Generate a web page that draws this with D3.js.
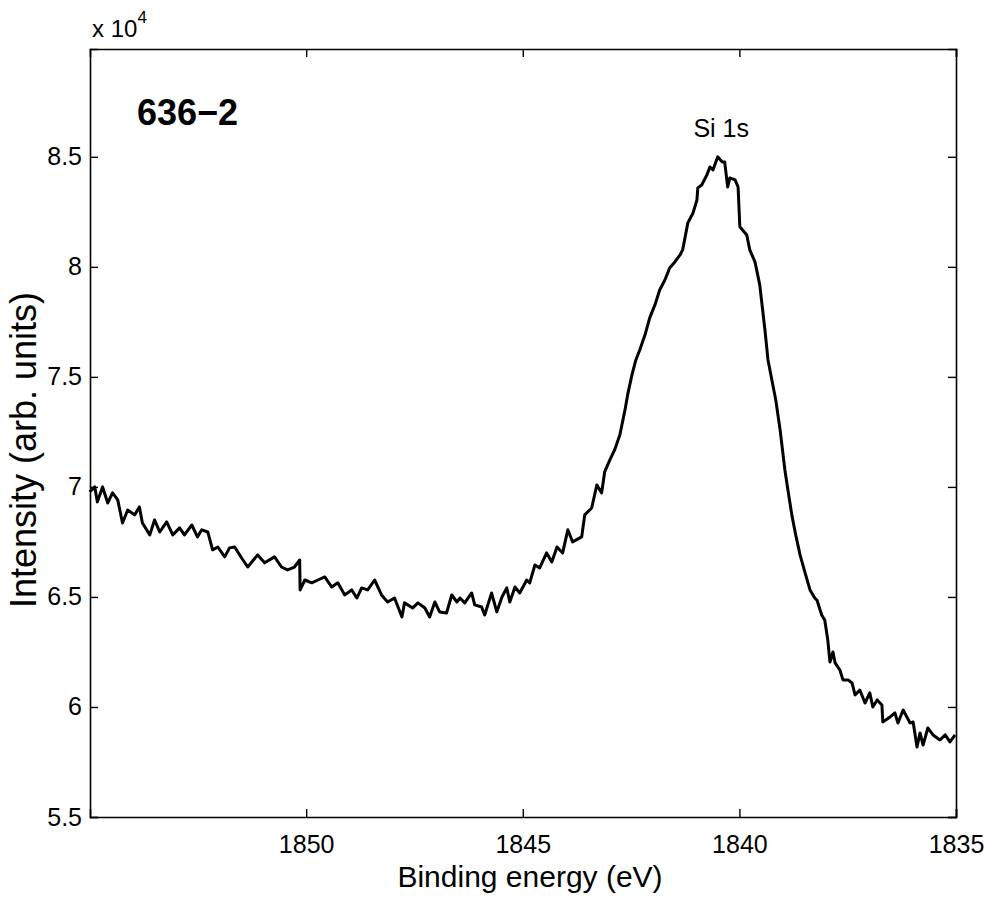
<!DOCTYPE html>
<html>
<head>
<meta charset="utf-8">
<script src="https://cdn.jsdelivr.net/npm/d3@7"></script>
<style>
  html, body { margin: 0; padding: 0; background: #fff; }
  svg { display: block; }
  text { font-family: "Liberation Sans", Arial, Helvetica, sans-serif; fill: #000; }
</style>
</head>
<body>
<svg id="chart" width="986" height="897"></svg>
<script>
// Binding energy (eV)
const energy = [
  1855.00, 1854.95, 1854.88, 1854.82, 1854.70, 1854.58, 1854.47, 1854.35, 1854.24, 1854.12,
  1853.96, 1853.85, 1853.78, 1853.61, 1853.50, 1853.38, 1853.22, 1853.08, 1852.92, 1852.81,
  1852.64, 1852.51, 1852.41, 1852.27, 1852.16, 1852.04, 1851.88, 1851.77, 1851.65, 1851.49,
  1851.35, 1851.12, 1850.96, 1850.73, 1850.57, 1850.43, 1850.27, 1850.15, 1850.14, 1850.03,
  1849.87, 1849.73, 1849.57, 1849.41, 1849.27, 1849.11, 1848.95, 1848.83, 1848.72, 1848.58,
  1848.42, 1848.26, 1848.12, 1847.96, 1847.79, 1847.73, 1847.54, 1847.42, 1847.26, 1847.15,
  1847.03, 1846.92, 1846.76, 1846.64, 1846.52, 1846.45, 1846.34, 1846.18, 1846.11, 1845.95,
  1845.88, 1845.72, 1845.60, 1845.48, 1845.37, 1845.30, 1845.18, 1845.07, 1844.91, 1844.84,
  1844.72, 1844.61, 1844.45, 1844.33, 1844.21, 1844.08, 1843.96, 1843.85, 1843.64, 1843.57,
  1843.41, 1843.29, 1843.18, 1843.11, 1842.99, 1842.88, 1842.76, 1842.64, 1842.58, 1842.48,
  1842.39, 1842.30, 1842.18, 1842.07, 1841.95, 1841.84, 1841.72, 1841.61, 1841.49, 1841.37,
  1841.31, 1841.19, 1841.07, 1840.98, 1840.96, 1840.87, 1840.75, 1840.68, 1840.61, 1840.50,
  1840.40, 1840.34, 1840.27, 1840.22, 1840.10, 1840.03, 1839.99, 1839.83, 1839.76, 1839.64,
  1839.53, 1839.41, 1839.34, 1839.25, 1839.16, 1839.06, 1838.95, 1838.88, 1838.79, 1838.70,
  1838.60, 1838.49, 1838.37, 1838.26, 1838.21, 1838.10, 1838.03, 1837.96, 1837.91, 1837.84,
  1837.79, 1837.68, 1837.61, 1837.49, 1837.40, 1837.33, 1837.22, 1837.10, 1836.99, 1836.92,
  1836.82, 1836.71, 1836.69, 1836.52, 1836.41, 1836.34, 1836.22, 1836.06, 1835.99, 1835.90,
  1835.83, 1835.76, 1835.65, 1835.53, 1835.37, 1835.25, 1835.14, 1835.02
];
// Intensity (arb. units)
const intensity = [
  69770, 69860, 70000, 69320, 70000, 69270, 69730, 69410, 68360, 68950,
  68730, 69090, 68360, 67820, 68500, 67950, 68410, 67820, 68140, 67820,
  68270, 67730, 68050, 67950, 67140, 67270, 66820, 67230, 67270, 66770,
  66360, 66910, 66550, 66820, 66360, 66230, 66360, 66680, 65320, 65770,
  65640, 65770, 65910, 65450, 65640, 65090, 65320, 64950, 65410, 65320,
  65770, 65090, 64770, 64950, 64090, 64730, 64500, 64730, 64500, 64090,
  64770, 64320, 64270, 65090, 64770, 64950, 64730, 65180, 64640, 64545,
  64180, 65180, 64320, 65000, 65410, 64770, 65450, 65180, 65770, 65640,
  66450, 66320, 67000, 66590, 67270, 67000, 68050, 67500, 67730, 68730,
  69040, 70090, 69730, 70680, 71230, 71680, 72360, 73500, 74180, 75090,
  75770, 76225, 76900, 77680, 78270, 78950, 79400, 79950, 80225, 80540,
  80770, 82000, 82450, 83040, 83590, 83720, 84180, 84540, 84400, 85000,
  84770, 84770, 83630, 84040, 83950, 83630, 81820, 81450, 80770, 80225,
  79180, 77130, 75770, 74860, 73950, 72590, 70770, 69860, 68730, 67820,
  66910, 66140, 65320, 64950, 64860, 64180, 63950, 63050, 62045, 62500,
  62000, 61680, 61230, 61230, 61090, 60545, 60770, 60180, 60640, 60000,
  60320, 60090, 59320, 59545, 59730, 59270, 59860, 59270, 59320, 58180,
  58820, 58270, 59045, 58730, 58500, 58730, 58410, 58730
];
const xTicks = [1850, 1845, 1840, 1835];
const yTicks = [55000, 60000, 65000, 70000, 75000, 80000, 85000];
const yTickLabels = ["5.5", "6", "6.5", "7", "7.5", "8", "8.5"];
const xDomain = [1854.99, 1835];
const yDomain = [55000, 89900];
const sampleName = "636\u22122";
const peakLabel = "Si 1s";
const peakEnergy = 1840.42;
const peakLabelLevel = 85900;

const W = 986, H = 897;
const margin = { top: 49, right: 30, bottom: 80, left: 90 };
const iw = W - margin.left - margin.right;
const ih = H - margin.top - margin.bottom;

const svg = d3.select("#chart");
const g = svg.append("g").attr("transform", `translate(${margin.left},${margin.top})`);

const x = d3.scaleLinear().domain(xDomain).range([0, iw]);
const y = d3.scaleLinear().domain(yDomain).range([ih, 0]);

const data = energy.map((e, i) => ({ e, v: intensity[i] }));

// Line
const line = d3.line().x(d => x(d.e)).y(d => y(d.v));
g.append("path").datum(data)
  .attr("fill", "none").attr("stroke", "#000")
  .attr("stroke-width", 3).attr("stroke-linejoin", "round")
  .attr("d", line);

// Axes
const tickLen = 8;
const fmtY = (d) => yTickLabels[yTicks.indexOf(d)];

const xb = g.append("g").attr("transform", `translate(0,${ih})`)
  .call(d3.axisBottom(x).tickValues(xTicks).tickSize(-tickLen).tickPadding(18).tickFormat(d3.format("d")));
const xt = g.append("g")
  .call(d3.axisTop(x).tickValues(xTicks).tickSize(-tickLen).tickFormat(""));
const yl = g.append("g")
  .call(d3.axisLeft(y).tickValues(yTicks).tickSize(-tickLen).tickPadding(8).tickFormat(fmtY));
const yr = g.append("g").attr("transform", `translate(${iw},0)`)
  .call(d3.axisRight(y).tickValues(yTicks).tickSize(-tickLen).tickFormat(""));

[xb, xt, yl, yr].forEach(a => {
  a.select(".domain").attr("stroke", "#000").attr("stroke-width", 1.6);
  a.selectAll(".tick line").attr("stroke", "#000").attr("stroke-width", 1.4);
  a.selectAll("text").attr("font-size", 25).attr("font-family", '"Liberation Sans", Arial, sans-serif').attr("fill", "#000");
});

// Axis labels
svg.append("text")
  .attr("x", 530).attr("y", 887)
  .attr("text-anchor", "middle").attr("font-size", 30)
  .text("Binding energy (eV)");

svg.append("text")
  .attr("transform", `translate(36,450) rotate(-90)`)
  .attr("text-anchor", "middle").attr("font-size", 36)
  .text("Intensity (arb. units)");

// Exponent label
const ex = svg.append("text").attr("x", 92).attr("y", 37).attr("font-size", 24);
ex.append("tspan").text("x 10");
ex.append("tspan").attr("font-size", 17).attr("dy", -14).text("4");

// Sample name
svg.append("text").attr("x", 137).attr("y", 125)
  .attr("font-size", 36).attr("font-weight", "bold")
  .text(sampleName);

// Peak label
g.append("text").attr("x", x(peakEnergy)).attr("y", y(peakLabelLevel))
  .attr("text-anchor", "middle").attr("font-size", 25)
  .text(peakLabel);
</script>
</body>
</html>
